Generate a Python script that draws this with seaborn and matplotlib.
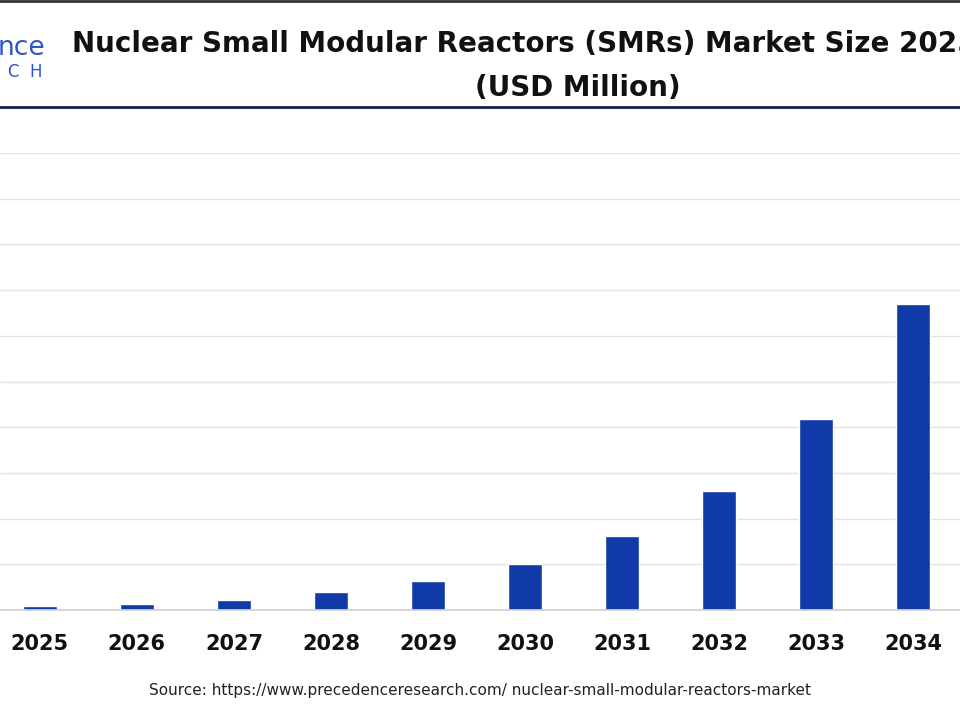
import matplotlib
matplotlib.use("Agg")
import matplotlib.pyplot as plt
import seaborn as sns
import pandas as pd
from matplotlib.lines import Line2D

years = ["2025","2026","2027","2028","2029","2030","2031","2032","2033","2034"]
values = [0.09, 0.13, 0.22, 0.39, 0.63, 1.0, 1.62, 2.60, 4.18, 6.70]
grid_ticks = [0,1,2,3,4,5,6,7,8,9,10]

df = pd.DataFrame({"year": years, "value": values})
sns.set_theme(style="white")
fig = plt.figure(figsize=(9.6, 7.2), dpi=100)
W, H = 960, 720
ax = fig.add_axes([0, 1-610/H, 1, (610-153)/H])
sns.barplot(data=df, x="year", y="value", color="#0f3aa8", saturation=1, width=0.35, ax=ax)
ax.set_xlim(-0.41, 9.48)
ax.set_ylim(0, 10)
ax.set_yticks(grid_ticks)
ax.grid(axis="y", color="#e3e3e3", lw=1)
ax.set_axisbelow(True)
for s in ["top","left","right"]:
    ax.spines[s].set_visible(False)
ax.spines["bottom"].set_color("#cfcfcf")
ax.tick_params(axis="y", left=False, labelleft=False)
ax.tick_params(axis="x", bottom=False, pad=11)
ax.set_xticks(range(len(years)))
ax.set_xticklabels(years, fontsize=15, fontweight="bold", color="#111")
ax.set_xlabel(""); ax.set_ylabel("")

fig.add_artist(Line2D([0,1],[1-107/H,1-107/H], color="#1a1f4a", lw=2))
fig.add_artist(Line2D([0,1],[1-1/H,1-1/H], color="#333", lw=2))
fig.text(72/W, 1-44/H, "Nuclear Small Modular Reactors (SMRs) Market Size 2025 to 2034",
         fontsize=20, fontweight="bold", ha="left", va="center", color="#111")
fig.text(578/W, 1-88/H, "(USD Million)", fontsize=20, fontweight="bold", ha="center", va="center", color="#111")
fig.text(45/W, 1-48/H, "nce", fontsize=19, ha="right", va="center", color="#2d55c8")
fig.text(42/W, 1-72/H, "C  H", fontsize=12, ha="right", va="center", color="#2d55c8")
fig.text(480/W, 1-690/H, "Source: https://www.precedenceresearch.com/ nuclear-small-modular-reactors-market",
         fontsize=11, ha="center", va="center", color="#222")
fig.savefig("out.png", dpi=100)
